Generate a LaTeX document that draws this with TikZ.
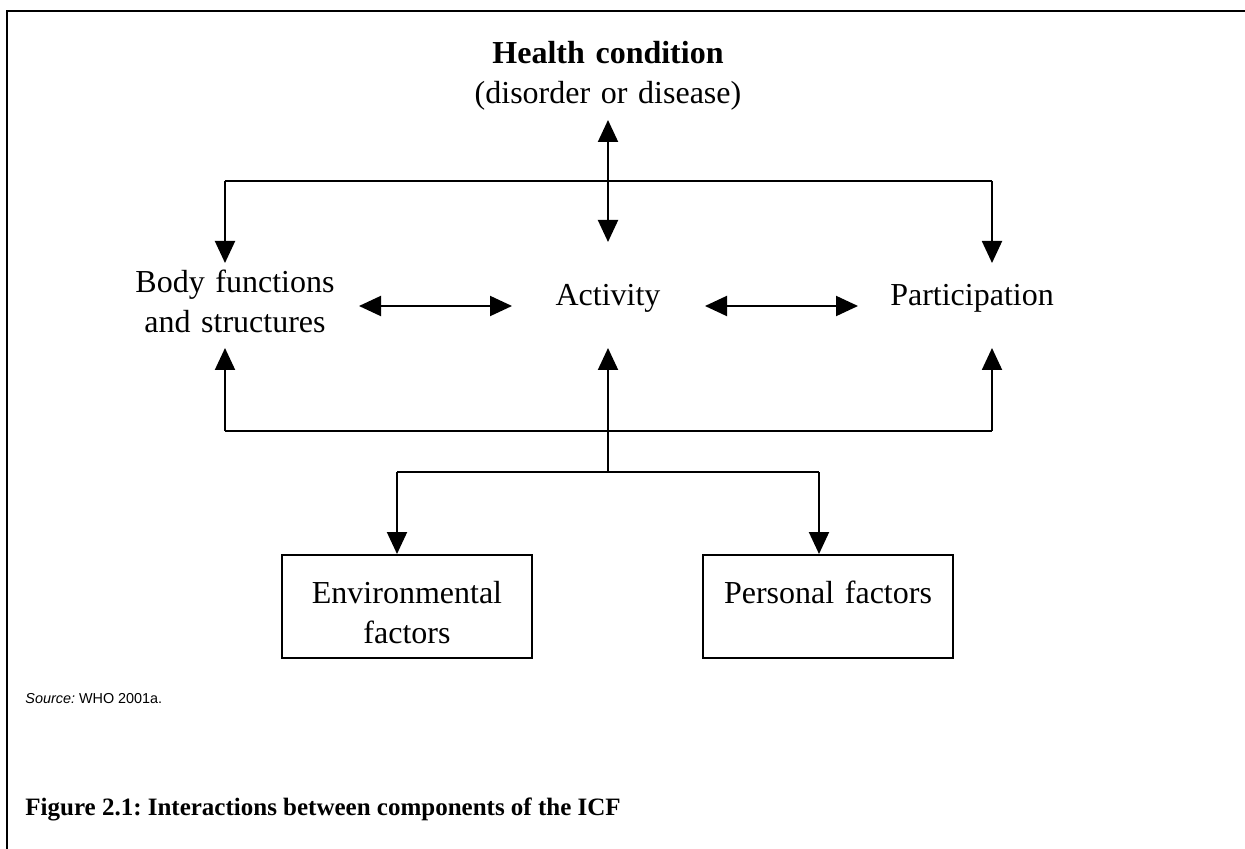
\documentclass[tikz,border=0pt]{standalone}
\usepackage{fontspec}
\setmainfont{Liberation Serif}
\newfontfamily\srcfont{Liberation Sans}
\frenchspacing
\usetikzlibrary{arrows.meta}
\tikzset{
  >={Triangle[width=10pt,length=11pt]},
  link/.style={line width=1pt},
  lbl/.style={inner sep=0pt, font=\fontsize{16}{20}\selectfont},
  factorbox/.style={draw, line width=1pt, inner xsep=4pt, inner ysep=4pt,
    text width=117pt, align=center, text height=20pt, text depth=23.5pt,
    font=\fontsize{16}{20}\selectfont}
}
\begin{document}
\begin{tikzpicture}[x=0.5pt,y=-0.5pt]
\useasboundingbox (0,0) rectangle (1245,849);
\draw[line width=1.3pt] (7,849) -- (7,11) -- (1245,11);

\node[lbl, anchor=base, text width=150pt, align=center] (health) at (608,64) {\textbf{Health condition}\\(disorder or disease)};
\node[lbl, anchor=base, text width=110pt, align=center] (body) at (235,293) {Body functions\\and structures};
\node[lbl, anchor=base] (activity) at (608,306) {Activity};
\node[lbl, anchor=base] (particip) at (972,306) {Participation};
\node[factorbox, anchor=base] (env) at (407,603) {Environmental\\factors};
\node[factorbox, anchor=base] (pers) at (828,603) {Personal factors};

\node[inner sep=0pt, anchor=base west, font=\fontsize{7.2}{9}\srcfont] (source) at (25,703) {\textit{Source:} WHO 2001a.};
\node[inner sep=0pt, anchor=base west, font=\fontsize{12.5}{15}\selectfont\bfseries] (caption) at (25,815) {Figure 2.1: Interactions between components of the ICF};

% health condition <-> middle row
\coordinate (hc) at (608,120); \coordinate (ac) at (608,242);
\draw[link,<->] (hc) -- (ac);
\coordinate (tl) at (225,181); \coordinate (tr) at (992,181);
\draw[link] (tl) -- (tr);
\draw[link,->] (tl) -- (225,263);
\draw[link,->] (tr) -- (992,263);

% middle row
\coordinate (b1) at (359,306); \coordinate (a1) at (512,306);
\coordinate (a2) at (705,306); \coordinate (p2) at (858,306);
\draw[link,<->] (b1) -- (a1);
\draw[link,<->] (a2) -- (p2);

% contextual factors
\coordinate (bl) at (225,431); \coordinate (br) at (992,431);
\coordinate (bc) at (608,472);
\draw[link] (bl) -- (br);
\draw[link,->] (bl) -- (225,348);
\draw[link,->] (br) -- (992,348);
\draw[link,->] (bc) -- (608,348);
\coordinate (el) at (397,472); \coordinate (pr) at (819,472);
\draw[link] (el) -- (pr);
\draw[link,->] (el) -- (env.north -| el);
\draw[link,->] (pr) -- (pers.north -| pr);
\end{tikzpicture}
\end{document}
